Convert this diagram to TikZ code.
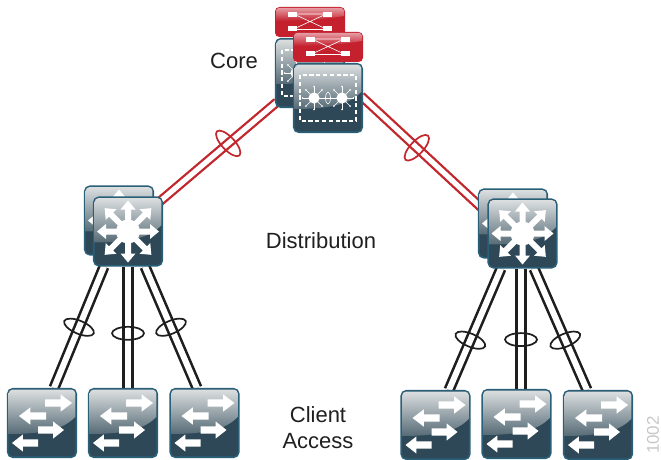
\documentclass[tikz,border=0pt]{standalone}
\usepackage{fontspec}
\setmainfont{Liberation Sans}
\usetikzlibrary{shapes.geometric,backgrounds,calc}
\definecolor{edgeblue}{HTML}{2A5F78}
\definecolor{bodydark}{HTML}{2E4858}
\definecolor{glosstop}{HTML}{DDE0E1}
\definecolor{glossbot}{HTML}{566B76}
\definecolor{redbody}{HTML}{C4202E}
\definecolor{redlink}{HTML}{C1272D}
\definecolor{linkblack}{HTML}{1E1E1E}
\tikzset{
  x=1pt,y=-1pt,
  devbox/.style={rectangle,rounded corners=5pt,draw=edgeblue,line width=1.6pt,fill=bodydark,inner sep=0pt,minimum width=68.5pt,minimum height=68.5pt},
  redbox/.style={rectangle,rounded corners=4pt,draw=redbody,line width=1pt,fill=redbody,inner sep=0pt,minimum width=69pt,minimum height=29pt},
  blacklink/.style={double=white,double distance=6pt,line width=2.6pt,draw=linkblack},
  redpair/.style={double=white,double distance=5.2pt,line width=2.3pt,draw=redlink},
  blackring/.style={ellipse,draw=linkblack,line width=1.7pt,inner sep=0pt,minimum width=32pt,minimum height=13pt},
  redring/.style={ellipse,draw=redlink,line width=1.7pt,inner sep=0pt,minimum width=33pt,minimum height=13pt},
  lbl/.style={font=\fontsize{22}{26}\selectfont,text=black!88,inner sep=0pt,align=center},
}
% gloss inside a device box
\newcommand{\gloss}[1]{%
  \begin{scope}[shift={(#1.center)}]
    \clip[rounded corners=4pt] (-33.4,-33.4) rectangle (33.4,33.4);
    \shade[top color=glosstop,bottom color=glossbot]
      (-34,-34) -- (34,-34) -- (34,-7) .. controls (22,7) and (0,11) .. (-34,11) -- cycle;
  \end{scope}}
% one arrow: tail x, tip x, y
\newcommand{\harrow}[3]{%
  \fill[white] ({#1},{#3-3.6}) -- ({#1+(#2-#1)*0.58},{#3-3.6}) -- ({#1+(#2-#1)*0.58},{#3-8.6}) -- (#2,#3) -- ({#1+(#2-#1)*0.58},{#3+8.6}) -- ({#1+(#2-#1)*0.58},{#3+3.6}) -- (#1,{#3+3.6}) -- cycle;}
\newcommand{\accessicon}[1]{%
  \gloss{#1}%
  \begin{scope}[shift={(#1.center)}]
    \harrow{3}{30}{-20}\harrow{4}{-23}{-7}\harrow{-4}{22}{7}\harrow{-4}{-30}{20}
  \end{scope}}
\newcommand{\radarrow}[2]{%
  \begin{scope}[rotate=#1]
    \fill[white] (9,-3) -- (#2-9,-3) -- (#2-9,-7.5) -- (#2,0) -- (#2-9,7.5) -- (#2-9,3) -- (9,3) -- cycle;
  \end{scope}}
\newcommand{\disticon}[1]{%
  \gloss{#1}%
  \begin{scope}[shift={(#1.center)}]
    \foreach \a in {0,90,180,270} {\radarrow{\a}{31}}
    \foreach \a in {45,135,225,315} {\radarrow{\a}{33}}
    \fill[white] (0,0) circle (12);
  \end{scope}}
\newcommand{\minirays}[2]{%
  \begin{scope}[shift={(#1,#2)}]
    \foreach \a in {0,45,...,315} {\draw[white,line width=.6pt] (0,0) -- (\a:11.5);\fill[white] (\a:11.5) circle (.9);}
    \fill[white] (0,0) circle (5.6);
  \end{scope}}
\newcommand{\coreicon}[1]{%
  \gloss{#1}%
  \begin{scope}[shift={(#1.center)}]
    \draw[white,line width=1.1pt,dash pattern=on 4.2pt off 2.6pt] (-28,-23) rectangle (28,23);
    \minirays{-14}{0}\minirays{14}{0}
    \draw[white,line width=.6pt] (-8,0) -- (8,0);
    \draw[white,line width=.6pt] (0,0) ellipse (2.4 and 6);
  \end{scope}}
\newcommand{\redicon}[1]{%
  \begin{scope}[shift={(#1.center)}]
    \begin{scope}
      \clip[rounded corners=3pt] (-34,-14) rectangle (34,14);
      \shade[top color=redbody!45!white,bottom color=redbody] (-34,-14) -- (34,-14) -- (34,-6) .. controls (10,-2) and (-10,-1) .. (-34,-1) -- cycle;
    \end{scope}
    \fill[white] (-22,-10) rectangle (-13,-5.2);
    \fill[white] (13,-10) rectangle (22,-5.2);
    \fill[white] (-22,4) rectangle (-13,9);
    \fill[white] (13,4) rectangle (22,9);
    \draw[white,line width=.6pt] (-13,-8) -- (13,-8) (-13,7.5) -- (13,7.5) (-13,-6.5) -- (13,5.5) (13,-6.5) -- (-13,5.5);
  \end{scope}}
\begin{document}
\begin{tikzpicture}
\useasboundingbox (0,0) rectangle (661,460);
% Core
\node[devbox] (cb) at (310,73) {};\coreicon{cb}
\node[redbox] (rb) at (310,22) {};\redicon{rb}
\node[devbox] (cf) at (328,98) {};\coreicon{cf}
\node[redbox] (rf) at (328,47) {};\redicon{rf}
% Distribution
\node[devbox] (dlb) at (119,220.5) {};\disticon{dlb}
\node[devbox] (dlf) at (128,231.5) {};\disticon{dlf}
\node[devbox] (drb) at (513,223.5) {};\disticon{drb}
\node[devbox] (drf) at (522.5,233.5) {};\disticon{drf}
% Access
\node[devbox] (a1) at (42,423) {};\accessicon{a1}
\node[devbox] (a2) at (123,423) {};\accessicon{a2}
\node[devbox] (a3) at (204.5,423) {};\accessicon{a3}
\node[devbox] (a4) at (435.5,425) {};\accessicon{a4}
\node[devbox] (a5) at (516.5,424) {};\accessicon{a5}
\node[devbox] (a6) at (598,425) {};\accessicon{a6}
% Links
\begin{scope}[on background layer]
\draw[redpair] ([xshift=-33pt,yshift=-29pt]cb.center) -- ([xshift=30pt,yshift=28.5pt]dlf.center);
\draw[redpair] ([xshift=33pt,yshift=2pt]cf.center) -- ([xshift=-37.5pt,yshift=22.5pt]drf.center);
\draw[blacklink] ([xshift=-24pt]dlf.south) -- ([xshift=12pt]a1.north);
\draw[blacklink] (dlf.south) -- ([xshift=5pt]a2.north);
\draw[blacklink] ([xshift=17pt]dlf.south) -- ([xshift=-7.5pt]a3.north);
\draw[blacklink] ([xshift=-21.5pt]drf.south) -- ([xshift=13.5pt]a4.north);
\draw[blacklink] ([xshift=-1.5pt]drf.south) -- ([xshift=4.5pt]a5.north);
\draw[blacklink] ([xshift=11.5pt]drf.south) -- ([xshift=-11pt]a6.north);
\end{scope}
% Rings
\path ([xshift=-33pt,yshift=-29pt]cb.center) -- ([xshift=30pt,yshift=28.5pt]dlf.center) node[pos=.41,redring,rotate=-47] (r1) {};
\path ([xshift=33pt,yshift=2pt]cf.center) -- ([xshift=-37.5pt,yshift=22.5pt]drf.center) node[pos=.45,redring,rotate=47] (r2) {};
\path ([xshift=-24pt]dlf.south) -- ([xshift=12pt]a1.north) node[pos=.5,blackring,rotate=-23] (r3) {};
\path (dlf.south) -- ([xshift=5pt]a2.north) node[pos=.55,blackring] (r4) {};
\path ([xshift=17pt]dlf.south) -- ([xshift=-7.5pt]a3.north) node[pos=.5,blackring,rotate=23] (r5) {};
\path ([xshift=-21.5pt]drf.south) -- ([xshift=13.5pt]a4.north) node[pos=.59,blackring,rotate=-23] (r6) {};
\path ([xshift=-1.5pt]drf.south) -- ([xshift=4.5pt]a5.north) node[pos=.59,blackring] (r7) {};
\path ([xshift=11.5pt]drf.south) -- ([xshift=-11pt]a6.north) node[pos=.59,blackring,rotate=23] (r8) {};
% Labels
\node[lbl] (tcore) at (234,60.5) {Core};
\node[lbl] (tdist) at (321,241) {Distribution};
\node[lbl] (tacc) at (318,428) {Client\\Access};
\node[font=\fontsize{17}{19}\selectfont,text=black!22,rotate=90,inner sep=0pt] (tnum) at (653,435) {1002};
\end{tikzpicture}
\end{document}
